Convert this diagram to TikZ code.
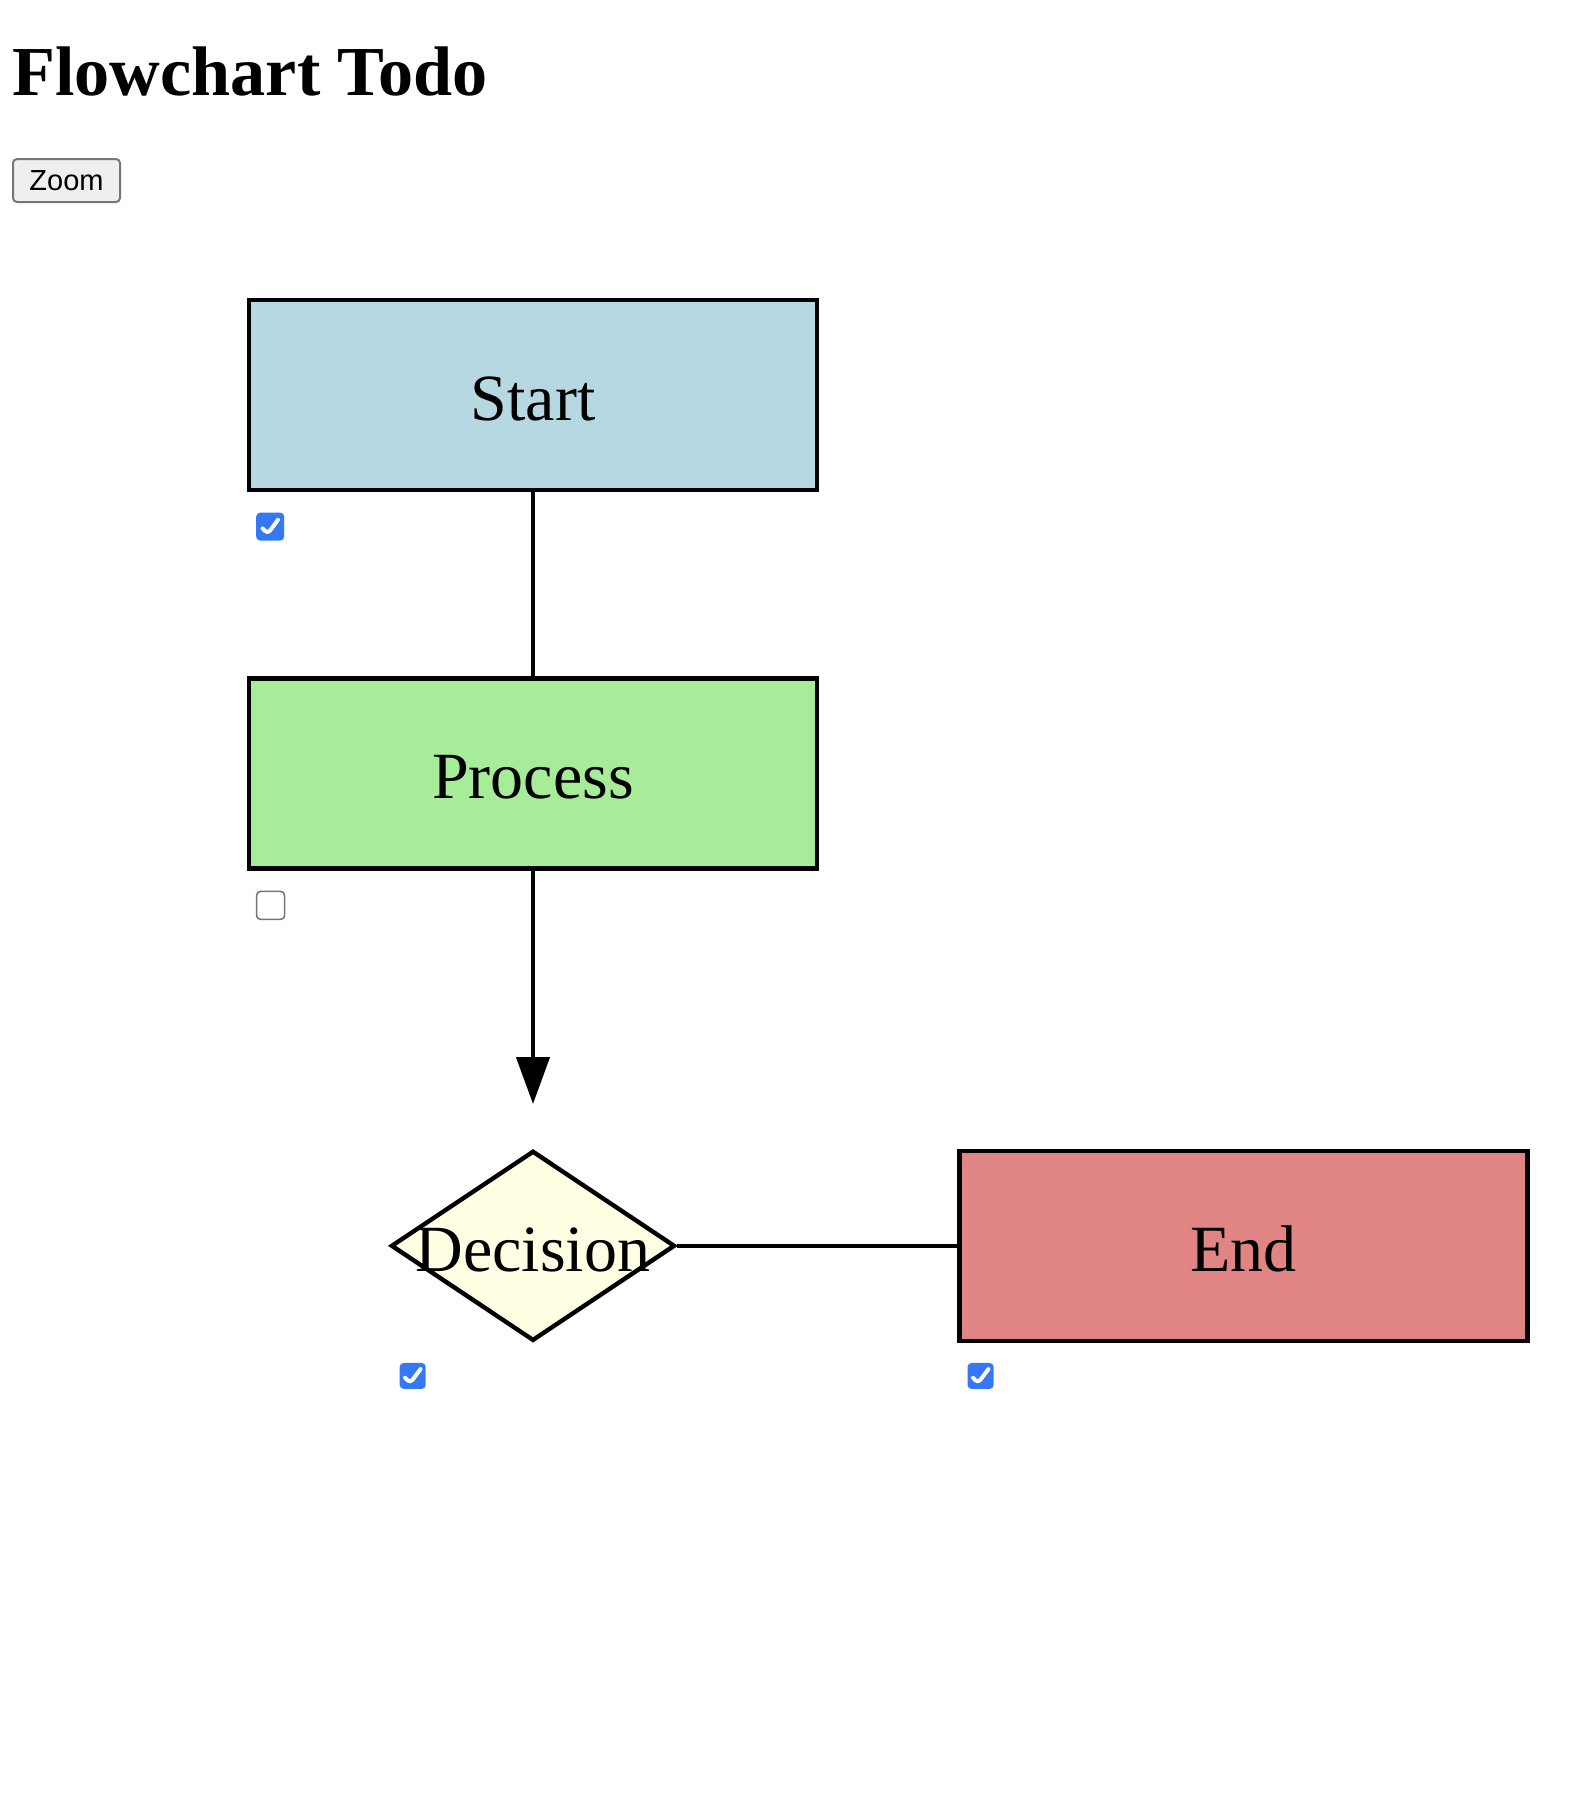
\documentclass[tikz,border=0pt]{standalone}
\usepackage{fontspec}
\setmainfont{Liberation Serif}
\setsansfont{Liberation Sans}
\usepackage{xcolor}
\usetikzlibrary{arrows.meta,positioning,shapes.geometric}

\definecolor{startblue}{HTML}{B6D8E3}
\definecolor{procgreen}{HTML}{A7EC98}
\definecolor{decyellow}{HTML}{FFFFE3}
\definecolor{endred}{HTML}{E08583}
\definecolor{tickblue}{HTML}{3478F6}
\definecolor{btngray}{HTML}{EFEFEF}
\definecolor{btnedge}{HTML}{767676}

\begin{document}
\begin{tikzpicture}[x=0.5pt,y=-0.5pt,>=Latex]
\tikzstyle{stage}=[draw, line width=2.2pt, minimum width=284pt, minimum height=95pt, inner sep=0pt, text height=25.4pt, text depth=0pt, font=\fontsize{33}{40}\selectfont]
\tikzstyle{choice}=[draw, diamond, line width=2.2pt, minimum width=142pt, minimum height=95pt, inner sep=0pt]
\tikzstyle{chk}=[rectangle, rounded corners=2pt, minimum size=14pt, inner sep=0pt]
\tikzstyle{chkon}=[chk, fill=tickblue, path picture={
  \draw[white, line width=2pt, line cap=round, line join=round]
    ([shift={(-3.8pt,-0.9pt)}]path picture bounding box.center) --
    ([shift={(-1.3pt,-3.6pt)}]path picture bounding box.center) --
    ([shift={(3.9pt,3.4pt)}]path picture bounding box.center);}]
\tikzstyle{chkoff}=[chk, draw=btnedge, fill=white, line width=0.8pt]
\tikzstyle{link}=[line width=2.2pt]

\useasboundingbox (0,0) rectangle (1586,1816);

% page header
\node[anchor=base west, inner sep=0pt, font=\bfseries\fontsize{35.1}{40}\selectfont] (title) at (12,95) {Flowchart Todo};
\node[draw=btnedge, fill=btngray, rounded corners=2pt, line width=1pt, minimum width=53.5pt, minimum height=21.5pt, inner sep=0pt, anchor=north west, font=\sffamily\fontsize{14.5}{17}\selectfont] (zoombtn) at (12,158) {Zoom};

% flowchart
\node[stage, fill=startblue] (start) at (533,395) {Start};
\node[stage, fill=procgreen, below=92pt of start] (process) {Process};
\node[choice, fill=decyellow, below=139pt of process] (decision) {};
\node[inner sep=0pt, text height=25.4pt, text depth=0pt, font=\fontsize{33}{40}\selectfont] (decisiontext) at (decision) {Decision};
\node[stage, fill=endred, right=140pt of decision] (end) {End};
\coordinate (arrowtip) at (533,1104);
\coordinate (decisioncorner) at (decision.west |- decision.south);

\draw[link] (start) -- (process);
\draw[link, -{Triangle[length=23.5pt,width=16.5pt]}] (process) -- (arrowtip);
\draw[link] (decision) -- (end);

% todo boxes
\node[chkon, below right=10pt and 4.5pt of start.south west] (startchk) {};
\node[chkoff, below right=10pt and 4.5pt of process.south west] (processchk) {};
\node[chkon, minimum size=13pt, below right=9.75pt and 5.25pt of decisioncorner] (decisionchk) {};
\node[chkon, minimum size=13pt, below right=9.75pt and 5pt of end.south west] (endchk) {};
\end{tikzpicture}
\end{document}
